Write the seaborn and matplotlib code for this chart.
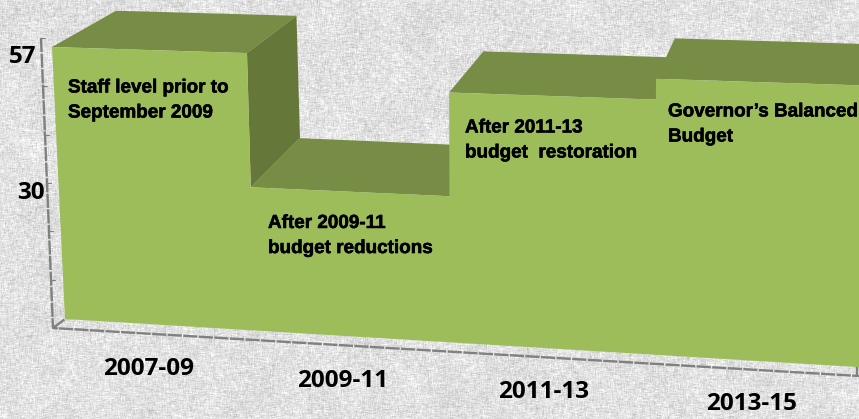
import numpy as np
import pandas as pd
import matplotlib
matplotlib.use("Agg")
import matplotlib.pyplot as plt
import matplotlib.patheffects as pe
import seaborn as sns

# Staff levels per biennium
bienniums = ["2007-09", "2009-11", "2011-13", "2013-15"]
staff_levels = [57, 30, 50.5, 54.5]
level_labels = ["57", "30"]
level_label_values = [57, 30]
notes = [
    "Staff level prior to\nSeptember 2009",
    "After 2009-11\nbudget reductions",
    "After 2011-13\nbudget  restoration",
    "Governor\u2019s Balanced\nBudget",
]

W, H = 859, 419
FRONT = "#9dbd5b"
TOP = "#778c44"
SIDE = "#66773a"
AXIS = "#808080"
FULL = 57.0

# Perspective of the chart box: where category edges land at level 0 and at full level
edge_base = [65, 255, 450, 655, 865]
edge_full = [52, 247, 449, 656, 868]


def project(edge, level):
    """Front-plane screen position of a category edge at a given level."""
    bx, tx = edge_base[edge], edge_full[edge]
    yb = 319 + 0.0606 * (bx - 65)
    yt = 47 + 0.031 * (tx - 52)
    frac = (level / FULL) ** 1.03
    return bx + (tx - bx) * level / FULL, yb + (yt - yb) * frac


def recede(point, level):
    """Same point pushed to the back of the box."""
    x, y = point
    return x + 68 - 0.075 * x, y - (36 + (FULL - level) * 0.44 + 0.005 * x)


def linen_texture(h, w, seed=7):
    rng = np.random.default_rng(seed)
    raw = rng.normal(size=(h, w))
    kx = np.ones(4) / 4
    horiz = np.apply_along_axis(lambda r: np.convolve(r, kx, mode="same"), 1, raw)
    vert = np.apply_along_axis(lambda c: np.convolve(c, kx, mode="same"), 0, rng.normal(size=(h, w)))
    blotch = rng.normal(size=(h // 12 + 2, w // 12 + 2))
    blotch = np.kron(blotch, np.ones((12, 12)))[:h, :w]
    kb = np.ones(25) / 25
    blotch = np.apply_along_axis(lambda r: np.convolve(r, kb, mode="same"), 1, blotch)
    blotch = np.apply_along_axis(lambda c: np.convolve(c, kb, mode="same"), 0, blotch)
    return np.clip(225 + 13 * horiz + 13 * vert + 6 * blotch + 2 * raw, 0, 255) / 255


sns.set_theme(style="white")
fig = plt.figure(figsize=(W / 100, H / 100), dpi=100)
ax = fig.add_axes([0, 0, 1, 1])
ax.imshow(linen_texture(H, W), cmap="gray", vmin=0, vmax=1, extent=(0, W, H, 0),
          interpolation="nearest", zorder=0, aspect="auto")

# Box frame: dashed left wall, floor edge, corner and wall ticks
frame = pd.DataFrame({
    "x": [41, 53, 859, np.nan, 53, 65, np.nan, 857, 857],
    "y": [38, 328, 376, np.nan, 328, 319, np.nan, 376, 365],
})
ax.plot(frame.x, frame.y, color=AXIS, lw=1.7, zorder=1, ls=(0, (6, 0.6)))
for t in range(7):
    y = 38 + t * (328 - 38) / 6
    x = 41 + (y - 38) * 12 / 290
    sns.lineplot(x=[x, x + 4], y=[y, y], color=AXIS, lw=0.8, ax=ax, zorder=1, errorbar=None, estimator=None)

# Raised faces, back to front
order = [1, 0, 2, 3]
for i in order:
    lv = staff_levels[i]
    a, b = project(i, lv), project(i + 1, lv)
    ax.fill(*zip(a, recede(a, lv), recede(b, lv), b), color=TOP, lw=0, zorder=2 + order.index(i) * 0.1)

# Right-hand wall of each step down
for i in range(len(staff_levels) - 1):
    hi, lo = staff_levels[i], staff_levels[i + 1]
    if hi > lo:
        a, b = project(i + 1, hi), project(i + 1, lo)
        ax.fill(*zip(a, recede(a, hi), recede(b, lo), b), color=SIDE, lw=0, zorder=3)

# Front stepped face
outline = [project(0, 0)]
for i, lv in enumerate(staff_levels):
    outline += [project(i, lv), project(i + 1, lv)]
outline.append(project(len(staff_levels), 0))
ax.fill(*zip(*outline), color=FRONT, lw=0, zorder=4)

# Category and value labels
label_font = dict(family="Open Sans", fontweight="bold", color="black", ha="center", va="center", zorder=6)
for name, (x, y) in zip(bienniums, [(149, 369), (343, 381), (544, 392), (751, 404)]):
    ax.text(x, y, name, fontsize=17.5, **label_font)
for text, level, (x, y) in zip(level_labels, level_label_values, [(23, 57), (31, 193)]):
    ax.text(x, y, text, fontsize=17.5, **label_font)

# Notes on the front face
for note, (x, y) in zip(notes, [(68, 100.5), (268, 236), (465, 140.5), (668, 124.5)]):
    ax.text(x, y, note, family="Liberation Sans", fontweight="bold", fontsize=13.6, color="black",
            ha="left", va="center", linespacing=1.62, zorder=6,
            path_effects=[pe.withStroke(linewidth=0.4, foreground="black")])

ax.set_xlim(0, W)
ax.set_ylim(H, 0)
ax.axis("off")
fig.savefig("out.png", dpi=100)
